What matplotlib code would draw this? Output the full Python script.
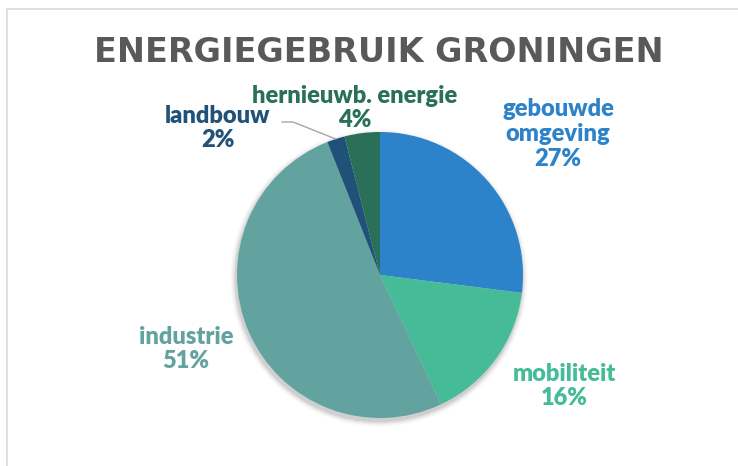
"""Energiegebruik Groningen pie chart, rendered to out.png."""

import matplotlib

matplotlib.use("Agg")
import matplotlib.pyplot as plt  # noqa: E402
import numpy as np  # noqa: E402
from matplotlib.patches import Circle, Rectangle  # noqa: E402

W, H = 738, 466

categories = ["gebouwde\nomgeving", "mobiliteit", "industrie", "landbouw", "hernieuwb. energie"]
shares = [27, 16, 51, 2, 4]
colors = ["#2D83C9", "#45BB97", "#63A39F", "#1F5179", "#2A7059"]

# label placement in image pixels (x, y from top)
label_pos = [(558, 134), (564, 386), (186, 349), (218, 128), (355, 108)]

plt.rcParams["font.family"] = ["Lato", "DejaVu Sans"]

fig = plt.figure(figsize=(W / 100, H / 100), dpi=100)
ax = fig.add_axes([0, 0, 1, 1])

# light frame around the chart area
fig.patches.append(Rectangle((7 / W, -0.1), 1.1, 1 - 9 / H + 0.1,
                             transform=fig.transFigure, fill=False,
                             edgecolor="#D9D9D9", linewidth=1.2))

cx, cy, r = 380, H - 275, 143

# soft shadow under the pie
for i, a in enumerate(np.linspace(0.05, 0.012, 6)):
    ax.add_patch(Circle((cx - 1, cy - 3), r + 1 + i, color="black",
                        alpha=a, linewidth=0, zorder=0))

wedges, _ = ax.pie(shares, colors=colors, startangle=90, counterclock=False,
                   center=(cx, cy), radius=r, frame=True,
                   wedgeprops=dict(linewidth=0))
ax.set_xlim(0, W)
ax.set_ylim(0, H)
ax.set_aspect("equal")
ax.axis("off")

for name, pct, col, (lx, ly) in zip(categories, shares, colors, label_pos):
    ax.text(lx, H - ly, f"{name}\n{pct}%", color=col, fontsize=17,
            fontweight="heavy", ha="center", va="center", linespacing=1.15)

# leader line for the small landbouw slice
wl = wedges[3]
mid = np.deg2rad((wl.theta1 + wl.theta2) / 2)
ex, ey = cx + r * np.cos(mid), cy + r * np.sin(mid)
ax.plot([282, 293, ex], [H - 122, H - 122, ey], color="#A6A6A6", linewidth=1)

fig.text(379 / W, 1 - 53 / H, "ENERGIEGEBRUIK GRONINGEN", color="#595959",
         fontsize=24, fontweight="bold", ha="center", va="center",
         family="DejaVu Sans")

fig.savefig("out.png", dpi=100)
